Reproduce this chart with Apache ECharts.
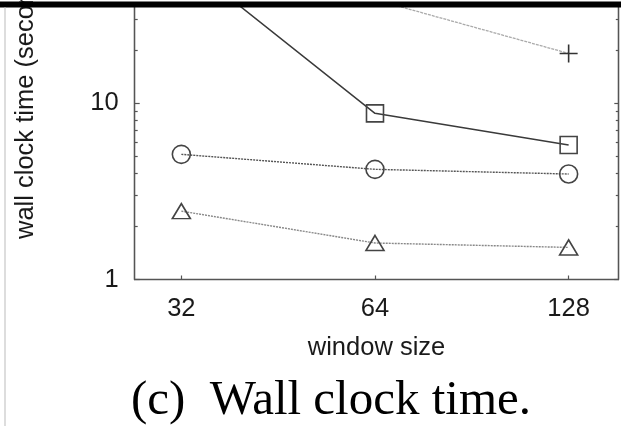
<!DOCTYPE html>
<html>
<head>
<meta charset="utf-8">
<script src="https://cdn.jsdelivr.net/npm/echarts@6/dist/echarts.min.js"></script>
<style>
  html, body { margin: 0; padding: 0; background: #fff; }
  #chart { width: 621px; height: 426px; }
</style>
</head>
<body>
<div id="chart"></div>
<script>
// Window sizes on the x axis (log base 2)
const windowSizes = [32, 64, 128];

// Wall clock time in seconds for each configuration
const timesPlus = [78, 38.5, 19.1];
const timesSquare = [65, 8.74, 5.78];
const timesCircle = [5.12, 4.21, 3.96];
const timesTriangle = [2.44, 1.61, 1.52];

// Tick positions
const xTicks = [32, 64, 128];
const yMajorTicks = [1, 10];
const yMinorTicks = [2, 3, 4, 5, 6, 7, 8, 9, 20, 30];

const X_MIN = 27.08, X_MAX = 152.9;
const Y_MIN = 1, Y_MAX = 36.4;

const SANS = '"Liberation Sans", Arial, Helvetica, sans-serif';
const SERIF = '"Liberation Serif", "Times New Roman", serif';
const AXIS_COLOR = '#555';
const FONT_SIZE = 25.5;

function pairs(ys) {
  return windowSizes.map((x, i) => [x, ys[i]]);
}

function yAxisDef(position, ticks, len, labels) {
  return {
    type: 'log',
    logBase: 10,
    min: Y_MIN,
    max: Y_MAX,
    position: position,
    splitLine: { show: false },
    axisLine: { show: true, lineStyle: { color: AXIS_COLOR, width: 1.3 } },
    axisTick: {
      show: true, inside: true, length: len,
      customValues: ticks,
      lineStyle: { color: AXIS_COLOR, width: 1.2 }
    },
    axisLabel: labels ? {
      show: true, customValues: labels, margin: 16,
      fontFamily: SANS, fontSize: FONT_SIZE, color: '#1a1a1a'
    } : { show: false }
  };
}

const chart = echarts.init(document.getElementById('chart'), null, { renderer: 'canvas' });

chart.setOption({
  animation: false,
  backgroundColor: '#fff',
  grid: { left: 134.7, right: 2.7, top: 4, bottom: 146.5, containLabel: false },
  xAxis: [{
    type: 'log',
    logBase: 2,
    min: X_MIN,
    max: X_MAX,
    position: 'bottom',
    splitLine: { show: false },
    axisLine: { show: true, lineStyle: { color: AXIS_COLOR, width: 1.3 } },
    axisTick: {
      show: true, inside: true, length: 4,
      customValues: xTicks,
      lineStyle: { color: AXIS_COLOR, width: 1.2 }
    },
    axisLabel: {
      show: true, customValues: xTicks, margin: 16,
      fontFamily: SANS, fontSize: FONT_SIZE, color: '#1a1a1a'
    },
    name: 'window size',
    nameLocation: 'middle',
    nameGap: 55,
    nameTextStyle: { fontFamily: SANS, fontSize: FONT_SIZE, color: '#1a1a1a' }
  }],
  yAxis: [
    yAxisDef('left', yMajorTicks, 5, yMajorTicks),
    yAxisDef('left', yMinorTicks, 3, null),
    yAxisDef('right', yMajorTicks, 4, null),
    yAxisDef('right', yMinorTicks, 2.5, null)
  ],
  series: [
    {
      name: 'plus',
      type: 'line',
      data: pairs(timesPlus),
      symbol: 'path://M9,0 L9,18 M0,9 L18,9',
      symbolSize: 18,
      itemStyle: { color: 'transparent', borderColor: '#333', borderWidth: 1.6 },
      lineStyle: { color: '#aaa', width: 1.3, type: [3, 1] }
    },
    {
      name: 'square',
      type: 'line',
      data: pairs(timesSquare),
      symbol: 'rect',
      symbolSize: 17,
      itemStyle: { color: 'transparent', borderColor: '#444', borderWidth: 1.6 },
      lineStyle: { color: '#3a3a3a', width: 1.5, type: 'solid' }
    },
    {
      name: 'circle',
      type: 'line',
      data: pairs(timesCircle),
      symbol: 'circle',
      symbolSize: 18,
      itemStyle: { color: 'transparent', borderColor: '#444', borderWidth: 1.6 },
      lineStyle: { color: '#555', width: 1.4, type: [2, 1] }
    },
    {
      name: 'triangle',
      type: 'line',
      data: pairs(timesTriangle),
      symbol: 'triangle',
      symbolSize: [18, 15],
      itemStyle: { color: 'transparent', borderColor: '#444', borderWidth: 1.6 },
      lineStyle: { color: '#888', width: 1.4, type: [2, 1] }
    }
  ],
  graphic: [
    // heavy rule across the top
    { type: 'rect', shape: { x: 0, y: 1.5, width: 621, height: 6 }, style: { fill: '#000' }, z: 100 },
    // thin rule down the left margin
    { type: 'line', shape: { x1: 5, y1: 7, x2: 5, y2: 426 }, style: { stroke: '#bbb', lineWidth: 1 }, z: 100 },
    // y axis title
    {
      type: 'text', x: 25.5, y: 239, rotation: Math.PI / 2, z: 50,
      style: {
        text: 'wall clock time (seconds)', fontFamily: SANS, fontSize: FONT_SIZE,
        fill: '#1a1a1a', align: 'left', verticalAlign: 'middle'
      }
    },
    // caption
    {
      type: 'text', x: 331, y: 401, z: 50,
      style: {
        text: '(c)  Wall clock time.', fontFamily: SERIF, fontSize: 49,
        fill: '#000', align: 'center', verticalAlign: 'middle'
      }
    }
  ]
});
</script>
</body>
</html>
